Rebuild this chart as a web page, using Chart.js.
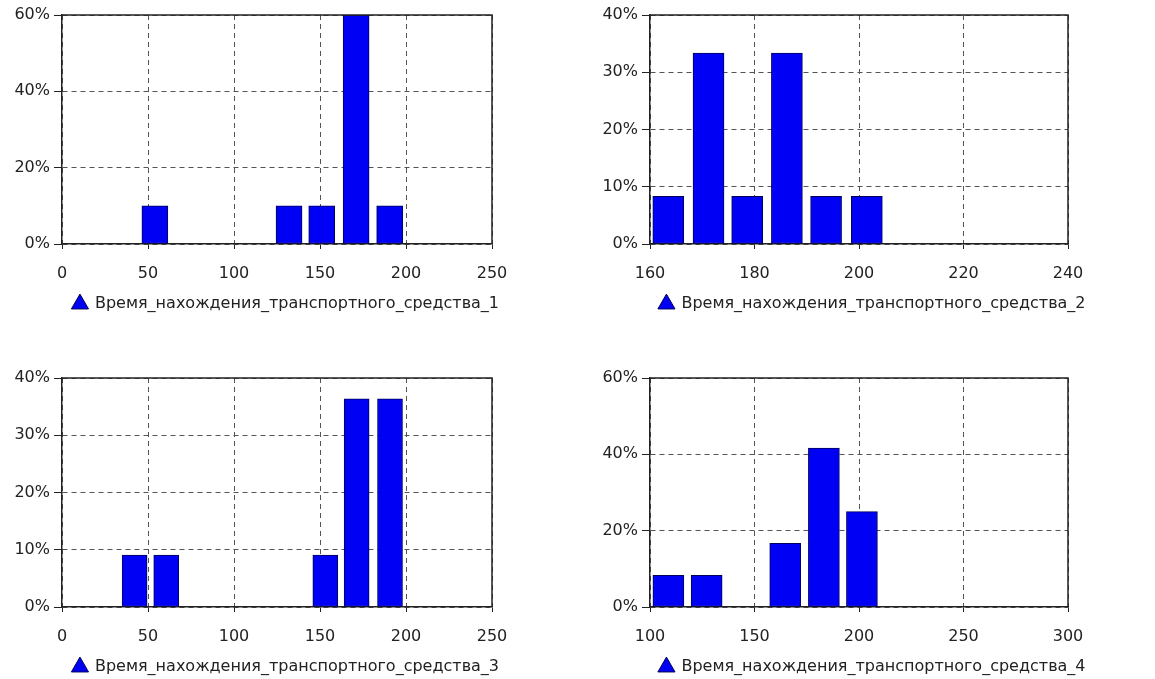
<!DOCTYPE html>
<html>
<head>
<meta charset="utf-8">
<script src="https://cdn.jsdelivr.net/npm/chart.js@4"></script>
<style>
  body { margin: 0; background: #fff; width: 1155px; height: 679px; position: relative; overflow: hidden; }
  .box { position: absolute; }
</style>
</head>
<body>
<div class="box" style="left:0;top:0"><canvas id="c1" width="572" height="322"></canvas></div>
<div class="box" style="left:590px;top:0"><canvas id="c2" width="565" height="322"></canvas></div>
<div class="box" style="left:0;top:363px"><canvas id="c3" width="572" height="322"></canvas></div>
<div class="box" style="left:590px;top:363px"><canvas id="c4" width="565" height="322"></canvas></div>
<script>
// bin centres (x) and share of observations in %
const bins1 = [54, 132, 151, 171, 190.5];
const share1 = [10, 10, 10, 60, 10];
const bins2 = [163.5, 171.2, 178.6, 186.2, 193.7, 201.5];
const share2 = [8.33, 33.33, 8.33, 33.33, 8.33, 8.33];
const bins3 = [42.2, 60.6, 153.1, 171.3, 190.7];
const share3 = [9.09, 9.09, 9.09, 36.36, 36.36];
const bins4 = [108.8, 127.1, 164.7, 183.2, 201.4];
const share4 = [8.33, 8.33, 16.67, 41.67, 25];

const xTicks1 = [0, 50, 100, 150, 200, 250];
const xTicks2 = [160, 180, 200, 220, 240];
const xTicks3 = [0, 50, 100, 150, 200, 250];
const xTicks4 = [100, 150, 200, 250, 300];
const yTicks1 = [0, 20, 40, 60];
const yTicks2 = [0, 10, 20, 30, 40];
const yTicks3 = [0, 10, 20, 30, 40];
const yTicks4 = [0, 20, 40, 60];

const names = [
    "Время_нахождения_транспортного_средства_1",
    "Время_нахождения_транспортного_средства_2",
    "Время_нахождения_транспортного_средства_3",
    "Время_нахождения_транспортного_средства_4"
];

const font = { family: "'DejaVu Sans', Verdana, sans-serif", size: 16 };
const textColor = "#222";

// closes the plot box on the top and right side
const framePlugin = {
    id: "frame",
    afterDatasetsDraw(chart) {
        const a = chart.chartArea;
        const ctx = chart.ctx;
        ctx.save();
        ctx.strokeStyle = "#222";
        ctx.lineWidth = 1.5;
        ctx.beginPath();
        ctx.moveTo(a.left, a.top);
        ctx.lineTo(a.right, a.top);
        ctx.lineTo(a.right, a.bottom);
        ctx.stroke();
        ctx.restore();
    }
};

function makeChart(id, bins, shares, xTicks, yTicks, name, barPx, yWidth, rightWidth) {
    const ctx = document.getElementById(id).getContext("2d");
    return new Chart(ctx, {
        type: "bar",
        data: {
            datasets: [{
                label: name,
                data: bins.map((b, i) => ({ x: b, y: shares[i] })),
                backgroundColor: "#0000f5",
                borderColor: "#00005a",
                borderWidth: 1,
                borderSkipped: false,
                barThickness: barPx
            }]
        },
        options: {
            responsive: false,
            animation: false,
            devicePixelRatio: 1,
            layout: { padding: { top: 15, left: 0, right: 0, bottom: 0 } },
            plugins: {
                tooltip: { enabled: false },
                legend: {
                    position: "bottom",
                    align: "center",
                    labels: {
                        usePointStyle: true,
                        pointStyle: "triangle",
                        boxWidth: 14,
                        boxHeight: 14,
                        padding: 8,
                        color: textColor,
                        font: font
                    }
                }
            },
            scales: {
                x: {
                    type: "linear",
                    offset: false,
                    min: xTicks[0],
                    max: xTicks[xTicks.length - 1],
                    ticks: { stepSize: xTicks[1] - xTicks[0], color: textColor, font: font, padding: 15, maxRotation: 0 },
                    grid: { offset: false, color: "#555", lineWidth: 1, tickLength: 5, tickColor: "#222" },
                    border: { color: "#222", width: 1.5, dash: [5, 4] },
                    afterFit(scale) { scale.height = 44; }
                },
                y: {
                    min: yTicks[0],
                    max: yTicks[yTicks.length - 1],
                    ticks: { stepSize: yTicks[1] - yTicks[0], color: textColor, font: font, padding: 4, callback: (v) => v + "%" },
                    grid: { color: "#555", lineWidth: 1, tickLength: 8, tickColor: "#222" },
                    border: { color: "#222", width: 1.5, dash: [5, 4] },
                    afterFit(scale) { scale.width = yWidth; }
                },
                pad: {
                    position: "right",
                    ticks: { display: false },
                    grid: { display: false },
                    border: { display: false },
                    afterFit(scale) { scale.width = rightWidth; }
                }
            }
        },
        plugins: [framePlugin]
    });
}

makeChart("c1", bins1, share1, xTicks1, yTicks1, names[0], 26, 62, 80);
makeChart("c2", bins2, share2, xTicks2, yTicks2, names[1], 31, 60, 87);
makeChart("c3", bins3, share3, xTicks3, yTicks3, names[2], 25, 62, 80);
makeChart("c4", bins4, share4, xTicks4, yTicks4, names[3], 31, 60, 87);
</script>
</body>
</html>
